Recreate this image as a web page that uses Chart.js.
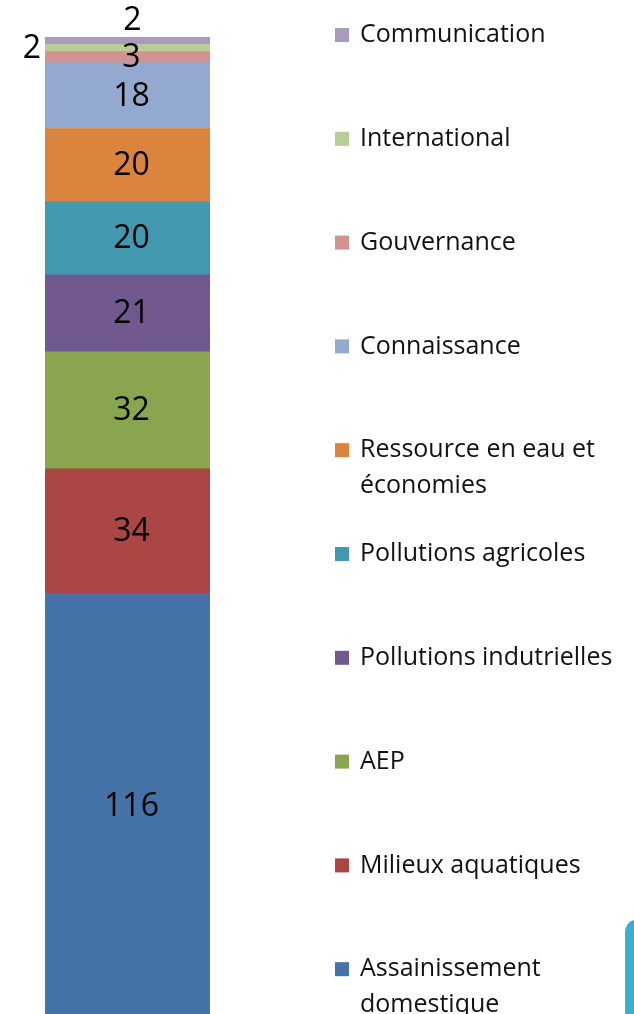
<!DOCTYPE html>
<html>
<head>
<meta charset="utf-8">
<script src="https://cdn.jsdelivr.net/npm/chart.js"></script>
<style>
  html, body { margin: 0; padding: 0; background: #fff; overflow: hidden; }
  #wrap { width: 634px; height: 1018px; position: relative; }
</style>
</head>
<body>
<div id="wrap"><canvas id="stackChart"></canvas></div>
<script>
// data, bottom of the stack first
const categories = ["Assainissement domestique", "Milieux aquatiques", "AEP", "Pollutions indutrielles",
  "Pollutions agricoles", "Ressource en eau et économies", "Connaissance", "Gouvernance",
  "International", "Communication"];
const values = [116, 34, 32, 21, 20, 20, 18, 3, 2, 2];
const colors = ["#4572A7", "#AA4643", "#89A54E", "#71588F", "#4198AF", "#DB843D",
  "#93A9CF", "#D19392", "#B9CD96", "#A99BBD"];
// where each value label sits: inside the segment, above the bar, or left of it
const labelPlace = ["center", "center", "center", "center", "center", "center", "center", "center", "left", "top"];

const total = values.reduce((a, b) => a + b, 0);

const datasets = categories.map((c, i) => ({
  label: c,
  data: [values[i]],
  backgroundColor: colors[i],
  borderWidth: 0,
  barPercentage: 1,
  categoryPercentage: 1
}));

function wrapText(ctx, text, maxW) {
  let words = text.split(" ");
  let lines = [];
  let line = "";
  words.forEach(w => {
    let test = line ? line + " " + w : w;
    if (ctx.measureText(test).width > maxW && line) {
      lines.push(line);
      line = w;
    } else {
      line = test;
    }
  });
  lines.push(line);
  return lines;
}

const drawExtras = {
  id: "drawExtras",
  afterDatasetsDraw(chart) {
    let ctx = chart.ctx;
    ctx.save();
    // value labels
    ctx.font = "32px 'Open Sans'";
    ctx.fillStyle = "#000";
    ctx.textBaseline = "middle";
    ctx.textAlign = "center";
    chart.data.datasets.forEach((ds, i) => {
      let bar = chart.getDatasetMeta(i).data[0];
      let mid = (bar.y + bar.base) / 2;
      let txt = String(ds.data[0]);
      if (labelPlace[i] === "top") {
        ctx.fillText(txt, bar.x + 5, bar.y - 16);
      } else if (labelPlace[i] === "left") {
        ctx.fillText(txt, bar.x - bar.width / 2 - 13, mid + 1);
      } else {
        ctx.fillText(txt, bar.x + 4, mid + 1);
      }
    });

    // legend, top item is the last dataset
    ctx.font = "25px 'Open Sans'";
    ctx.textAlign = "left";
    let n = chart.data.datasets.length;
    let textX = 360;
    for (let k = 0; k < n; k++) {
      let i = n - 1 - k;
      let ds = chart.data.datasets[i];
      let y = 35 + k * 103.8;
      ctx.fillStyle = ds.backgroundColor;
      ctx.fillRect(335, y - 7, 14, 14);
      ctx.fillStyle = "#111";
      let lines = wrapText(ctx, ds.label, 634 - textX - 4);
      lines.forEach((ln, j) => ctx.fillText(ln, textX, y + j * 36));
    }

    // decorative shape at bottom right
    ctx.fillStyle = "#38AFCF";
    ctx.beginPath();
    ctx.moveTo(625, 1018);
    ctx.lineTo(625, 932);
    ctx.quadraticCurveTo(626, 922, 634, 920);
    ctx.lineTo(634, 1018);
    ctx.closePath();
    ctx.fill();
    ctx.restore();
  }
};

new Chart(document.getElementById("stackChart"), {
  type: "bar",
  data: { labels: [""], datasets: datasets },
  options: {
    responsive: true,
    maintainAspectRatio: false,
    animation: false,
    layout: { padding: { left: 45, right: 424, top: 37, bottom: 0 } },
    plugins: { legend: { display: false }, tooltip: { enabled: false } },
    scales: {
      x: { stacked: true, display: false },
      y: { stacked: true, display: false, min: 0, max: total }
    }
  },
  plugins: [drawExtras]
});
</script>
</body>
</html>
